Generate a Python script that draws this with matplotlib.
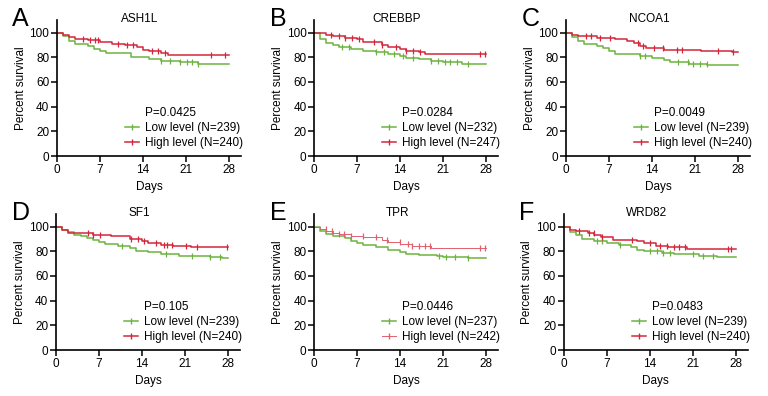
import numpy as np
import matplotlib
matplotlib.use("Agg")
import matplotlib.pyplot as plt
from matplotlib.lines import Line2D

plt.rcParams['font.family'] = ['Liberation Sans', 'DejaVu Sans']

GREEN = '#6cb33f'
RED = '#d3263a'

letters = ['A', 'B', 'C', 'D', 'E', 'F']
genes = ['ASH1L', 'CREBBP', 'NCOA1', 'SF1', 'TPR', 'WRD82']
p_values = ['P=0.0425', 'P=0.0284', 'P=0.0049', 'P=0.105', 'P=0.0446', 'P=0.0483']
n_low = [239, 232, 239, 239, 237, 239]
n_high = [240, 247, 240, 240, 242, 240]

# Kaplan-Meier steps (day, percent surviving)
low_days = [
    [0, 1, 2, 3, 5, 6, 7, 8, 12, 15, 17, 20, 23, 28],
    [0, 1, 2, 3, 4, 6, 8, 10, 12, 14, 15, 17, 19, 21, 24, 28],
    [0, 1, 2, 3, 5, 6, 7, 8, 12, 14, 16, 17, 20, 23, 28],
    [0, 1, 2, 3, 4, 5, 6, 7, 8, 10, 12, 13, 15, 17, 20, 25, 27, 28],
    [0, 1, 2, 3, 5, 6, 7, 8, 10, 12, 14, 15, 17, 20, 21, 25, 28],
    [0, 1, 2, 3, 5, 7, 9, 11, 12, 13, 16, 18, 22, 25, 28],
]
low_surv = [
    [100, 97, 93, 91, 89, 87, 85, 83.7, 80.5, 78.6, 77.2, 76.2, 74.8, 74.8],
    [100, 95, 91.6, 89.7, 88.4, 87, 85.4, 84, 82.7, 81, 79.6, 78.3, 77, 76, 74.8, 74.5],
    [100, 96.2, 93, 91, 89.4, 87.6, 85, 82.8, 81, 79.4, 77.8, 76.2, 74.8, 73.5, 73.5],
    [100, 97.6, 95.4, 93.5, 92.2, 90.9, 89.2, 87.6, 86, 84.4, 82.5, 80.6, 79.3, 78, 76.3, 75.3, 74.5, 74.5],
    [100, 96.8, 94, 92, 90.6, 88.7, 86.6, 84.7, 83.3, 81.4, 79.8, 78, 76.9, 76, 75.2, 74.2, 74.2],
    [100, 95.4, 93, 90, 88.7, 87.1, 85.2, 83.3, 81.4, 80.1, 78.7, 77.4, 76.3, 75.3, 75.3],
]
high_days = [
    [0, 1, 2, 3, 5, 7, 9, 11, 13, 14, 15, 17, 18, 28],
    [0, 2, 3, 5, 7, 8, 11, 12, 14, 15, 17, 18, 28],
    [0, 1, 2, 5, 8, 10, 11, 12, 13, 16, 22, 27, 28],
    [0, 1, 2, 3, 6, 9, 11, 12, 14, 15, 17, 19, 22, 28],
    [0, 1, 2, 3, 4, 6, 8, 11, 12, 14, 16, 19, 28],
    [0, 1, 2, 4, 5, 6, 8, 12, 13, 15, 17, 20, 28],
]
high_surv = [
    [100, 98.4, 96.5, 95, 94, 92.5, 91, 89.7, 88, 86.2, 84.8, 83.2, 82, 82],
    [100, 98.4, 97, 95.7, 94.4, 92.4, 90.2, 88.4, 86.8, 85.4, 84, 82.8, 82.8],
    [100, 98.4, 97, 95.7, 94.6, 93.5, 91.4, 89.4, 87.6, 86.2, 85, 84, 84],
    [100, 97.3, 95.1, 94.4, 93.3, 92.5, 92, 90.1, 88.3, 86.7, 85.2, 84.4, 83.6, 83.6],
    [100, 97.8, 96.2, 94.9, 94.1, 92.7, 91.4, 89.2, 87.6, 86, 84.4, 82.3, 82.3],
    [100, 97.3, 96.2, 94.6, 93, 91.4, 89.5, 88.2, 86.6, 84.1, 83.3, 81.7, 81.7],
]
# censored observations (days)
low_cens = [
    [17, 18.4, 20, 21.1, 22, 23],
    [4.6, 5.7, 10, 11.4, 13, 14.4, 16.1, 19.1, 20.2, 21.3, 22.1, 23.2, 25.1],
    [12, 12.8, 18.2, 19.9, 20.7, 21.8, 22.9],
    [10.8, 17.9, 22.2, 25.1, 26.7],
    [20.4, 21.5, 22.9, 25],
    [5.4, 6.3, 9.2, 14.1, 15.2, 16.2, 17.3, 21.1, 22.7, 24.3],
]
high_cens = [
    [4.3, 5.4, 6.2, 6.7, 10, 11.4, 12.4, 15.4, 16.5, 17.6, 25, 27.4],
    [2.7, 4.0, 5.1, 6.2, 7.3, 9.8, 11.1, 13.3, 15, 16.1, 17.2, 27, 27.8],
    [3.3, 4.1, 5.5, 7.1, 11.7, 12.5, 14.4, 15.8, 18, 18.8, 24.8, 27.2],
    [5.2, 6, 7.1, 12.2, 13.3, 14.3, 16.2, 17.6, 18.1, 18.9, 21.1, 23, 27.8],
    [1.9, 2.9, 4.0, 4.9, 6, 7.9, 10, 11.9, 13.9, 15.2, 16, 17.1, 18, 18.8, 27, 27.8],
    [2.5, 4.1, 4.9, 6.3, 11.1, 14.1, 15.7, 16.8, 17.9, 18.7, 19.7, 26.8, 27.3],
]

fig = plt.figure(figsize=(7.68, 3.96), dpi=100)

lefts = [0.0742, 0.409, 0.737, 0.073, 0.409, 0.734]
bottoms = [0.606, 0.606, 0.606, 0.116, 0.116, 0.116]


def step_value(days, surv, t):
    i = np.searchsorted(days, t, side='right') - 1
    return np.asarray(surv)[i]


for k in range(6):
    ax = fig.add_axes([lefts[k], bottoms[k], 0.240, 0.343])
    hi_col = RED if k != 4 else '#e0606e'
    hi_lw = 1.1 if k != 4 else 0.7

    ax.step(low_days[k], low_surv[k], where='post', color=GREEN, lw=1.1)
    ax.step(high_days[k], high_surv[k], where='post', color=hi_col, lw=hi_lw)
    ax.plot(low_cens[k], step_value(low_days[k], low_surv[k], low_cens[k]),
            linestyle='none', marker='|', color=GREEN, markersize=4, mew=0.9)
    ax.plot(high_cens[k], step_value(high_days[k], high_surv[k], high_cens[k]),
            linestyle='none', marker='|', color=hi_col, markersize=4, mew=0.9)

    ax.set_xlim(0, 30)
    ax.set_ylim(0, 110)
    ax.set_xticks([0, 7, 14, 21, 28])
    ax.set_yticks([0, 20, 40, 60, 80, 100])
    for s in ['top', 'right']:
        ax.spines[s].set_visible(False)
    for s in ['left', 'bottom']:
        ax.spines[s].set_linewidth(1.2)
    ax.tick_params(direction='out', length=4, width=1.1, labelsize=8.5, pad=1.5)
    ax.set_xlabel('Days', fontsize=8.5, labelpad=4)
    ax.set_ylabel('Percent survival', fontsize=8.5, labelpad=2)
    ax.set_title(genes[k], fontsize=8.5, x=0.45, y=1.0, pad=-1)

    handles = [
        Line2D([], [], linestyle='none'),
        Line2D([], [], color=GREEN, lw=1.1, marker='|', markersize=4),
        Line2D([], [], color=hi_col, lw=hi_lw, marker='|', markersize=4),
    ]
    labels = [p_values[k], 'Low level (N=%d)' % n_low[k], 'High level (N=%d)' % n_high[k]]
    ax.legend(handles, labels, loc='lower left', bbox_to_anchor=(0.37, 0.05),
              frameon=False, fontsize=8.5, handlelength=1.2, handletextpad=0.5,
              labelspacing=0.25, borderpad=0, borderaxespad=0)

    fig.text(lefts[k] - 0.058, bottoms[k] + 0.345, letters[k], fontsize=18,
             ha='left', va='center')

fig.savefig('out.png', dpi=100)
